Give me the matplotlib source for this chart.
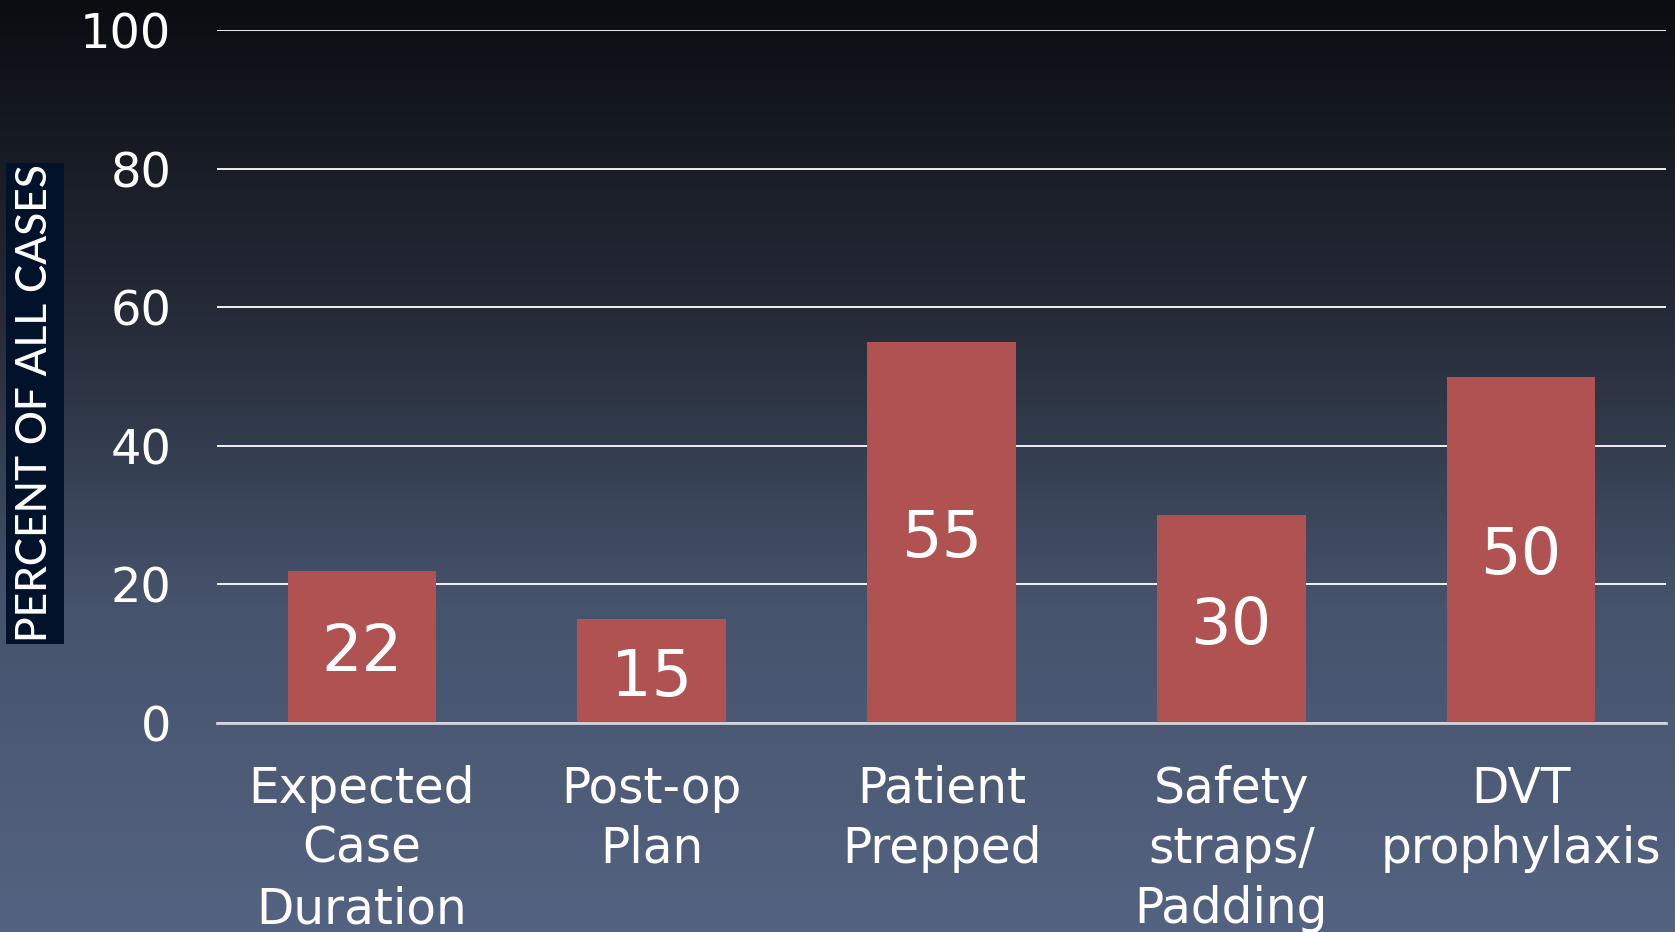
import numpy as np
import matplotlib.pyplot as plt
from matplotlib.colors import LinearSegmentedColormap
from matplotlib.patches import Rectangle

categories = ["Expected\nCase\nDuration", "Post-op\nPlan", "Patient\nPrepped",
              "Safety\nstraps/\nPadding", "DVT\nprophylaxis"]
values = [22, 15, 55, 30, 50]
y_ticks = [0, 20, 40, 60, 80, 100]
y_label = "PERCENT OF ALL CASES"

fig = plt.figure(figsize=(16.75, 9.32), dpi=100)

# gradient background over the whole figure
bg = fig.add_axes([0, 0, 1, 1], zorder=0)
cmap = LinearSegmentedColormap.from_list(
    "bg", [(0.0, "#0a0d12"), (0.35, "#262c39"), (0.65, "#46536c"), (1.0, "#546381")])
grad = np.linspace(0, 1, 256).reshape(-1, 1)
bg.imshow(grad, aspect="auto", cmap=cmap, extent=[0, 1, 1, 0])
bg.set_xlim(0, 1)
bg.set_ylim(1, 0)
bg.set_axis_off()

ax = fig.add_axes([0.1296, 0.2242, 0.865, 0.7436], zorder=1)
ax.patch.set_alpha(0)
x = np.arange(len(categories))
ax.bar(x, values, width=0.513, color="#b05152", zorder=3)
for xi, v in zip(x, values):
    ax.text(xi, v / 2, str(v), ha="center", va="center_baseline", color="white",
            fontsize=46, zorder=4)

ax.set_xlim(-0.5, 4.5)
ax.set_ylim(0, 100)
ax.set_yticks(y_ticks)
ax.yaxis.grid(True, color="white", linewidth=1.3, zorder=1)
ax.tick_params(axis="y", length=0, pad=33, labelsize=34.5, labelcolor="white")
ax.set_xticks(x)
ax.set_xticklabels(categories, fontsize=35, color="white", linespacing=1.32)
ax.tick_params(axis="x", length=0, pad=30)
for s in ["top", "right", "left"]:
    ax.spines[s].set_visible(False)
ax.spines["bottom"].set_color("#d0d4dc")
ax.spines["bottom"].set_linewidth(2)
ax.spines["bottom"].set_zorder(5)

# y label on its own dark box
fig.patches.append(Rectangle((0.0036, 0.309), 0.0346, 0.516, transform=fig.transFigure,
                             facecolor="#02122b", edgecolor="none", zorder=2))
fig.text(0.0209, 0.5676, y_label, rotation=90, ha="center", va="center",
         color="white", fontsize=30.5, family="Lato", weight="medium", zorder=3)

fig.savefig("out.png", dpi=100)
